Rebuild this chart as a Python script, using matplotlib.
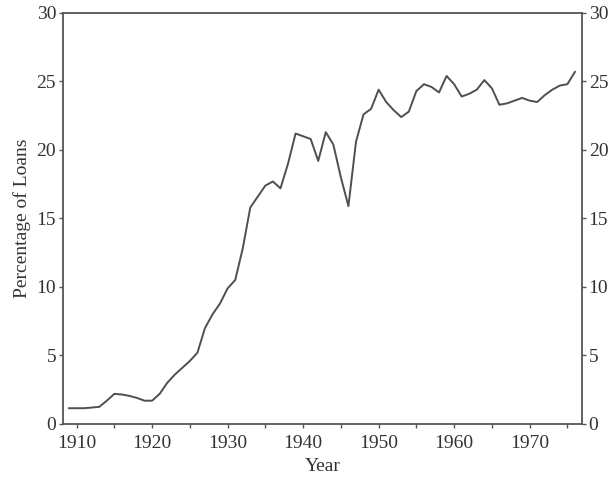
import matplotlib.pyplot as plt

# share of loans
years = list(range(1909, 1977))
pct = [1.15, 1.15, 1.15, 1.2, 1.25, 1.7, 2.2, 2.15, 2.05, 1.9,
       1.7, 1.7, 2.2, 3.0, 3.6, 4.1, 4.6, 5.2, 7.0, 8.0,
       8.8, 9.9, 10.5, 12.8, 15.8, 16.6, 17.4, 17.7, 17.2, 19.0,
       21.2, 21.0, 20.8, 19.2, 21.3, 20.4, 18.0, 15.9, 20.6, 22.6,
       23.0, 24.4, 23.5, 22.9, 22.4, 22.8, 24.3, 24.8, 24.6, 24.2,
       25.4, 24.8, 23.9, 24.1, 24.4, 25.1, 24.5, 23.3, 23.4, 23.6,
       23.8, 23.6, 23.5, 24.0, 24.4, 24.7, 24.8, 25.7]

xticks = [1910, 1920, 1930, 1940, 1950, 1960, 1970]
yticks = [0, 5, 10, 15, 20, 25, 30]

plt.rcParams['font.family'] = ['Liberation Serif', 'DejaVu Serif']
grey = '#555555'

fig = plt.figure(figsize=(6.13, 4.8), dpi=100)
ax = fig.add_axes([0.1028, 0.1167, 0.8462, 0.8563])
ax.plot(years, pct, color='#4f4f4f', linewidth=1.4)

ax.set_xlim(1908.2, 1976.9)
ax.set_ylim(0, 30)
ax.set_xticks(xticks)
ax.set_xticks(list(range(1910, 1976, 5)), minor=True)
ax.set_yticks(yticks)

for s in ax.spines.values():
    s.set_color(grey)
    s.set_linewidth(1.3)

ax.tick_params(axis='both', which='both', direction='out', colors=grey,
               labelcolor='#333333', labelsize=14, width=1.0, length=3)
ax.tick_params(axis='y', right=True, labelright=True, pad=2)
ax.tick_params(axis='x', pad=5)

ax.set_xlabel('Year', fontsize=14, color='#333333', labelpad=4)
ax.set_ylabel('Percentage of Loans', fontsize=14, color='#333333', labelpad=4)

plt.savefig('out.png', dpi=100)
